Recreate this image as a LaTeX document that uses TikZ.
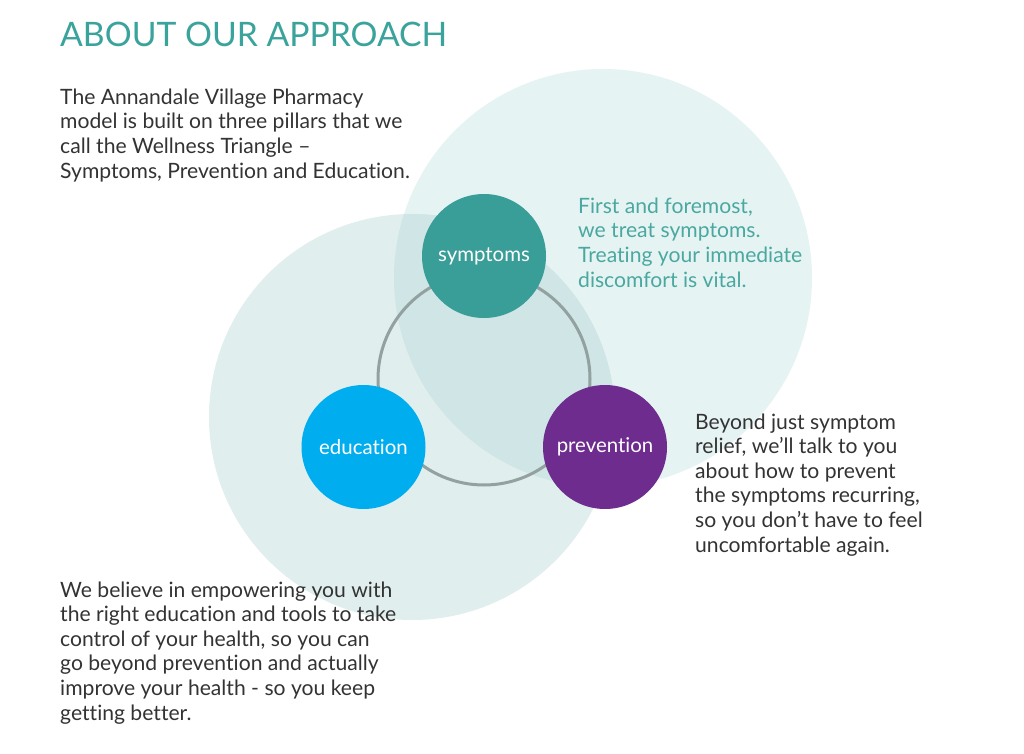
\documentclass[tikz,border=0pt]{standalone}
\usepackage{fontspec}
\setmainfont{Lato}[Ligatures=NoCommon]
\definecolor{titleteal}{HTML}{3AA39B}
\definecolor{bodygray}{HTML}{333333}
\definecolor{textteal}{HTML}{4AA8A0}
\definecolor{symfill}{HTML}{3A9E98}
\definecolor{edufill}{HTML}{00AEEF}
\definecolor{prevfill}{HTML}{6D2C8E}
\definecolor{bigA}{HTML}{E6F3F3}
\definecolor{bigB}{HTML}{E1EEEE}
\definecolor{overlap}{HTML}{CFE5E6}
\definecolor{ringgray}{HTML}{93A1A1}
\begin{document}
\begin{tikzpicture}[x=1bp,y=-1bp,
  bodytext/.style={anchor=base west,inner sep=0pt,align=left,text=bodygray,font=\fontsize{21.2}{24.6}\selectfont},
  pillar/.style={circle,minimum size=124bp,inner sep=0pt,text=white,font=\fontsize{20.5}{23}\selectfont}]
\useasboundingbox[fill=white] (0,0) rectangle (1024,754);
% backdrop circles
\fill[bigA] (603,278) circle[radius=209];
\fill[bigB] (412,417) circle[radius=203];
\begin{scope}
  \clip (603,278) circle[radius=209];
  \fill[overlap] (412,417) circle[radius=203];
\end{scope}
% ring
\coordinate (ringc) at (484,379);
\draw[ringgray,line width=3bp] (ringc) circle[radius=106];
% pillars
\node[pillar,fill=symfill] (sym) at (484,256) {symptoms};
\node[pillar,fill=edufill] (edu) at (363.5,447) {education};
\node[pillar,fill=prevfill] (prev) at (605,447) {prevention};
% texts
\node[anchor=base west,inner sep=0pt,text=titleteal,font=\fontsize{33.8}{38}\selectfont] (title) at (60,47) {ABOUT OUR APPROACH};
\node[bodytext] (intro) at (60,178) {The Annandale Village Pharmacy\\model is built on three pillars that we\\call the Wellness Triangle --\\Symptoms, Prevention and Education.};
\node[bodytext,text=textteal] (symtext) at (578,287) {First and foremost,\\we treat symptoms.\\Treating your immediate\\discomfort is vital.};
\node[bodytext] (prevtext) at (695,552) {Beyond just symptom\\relief, we’ll talk to you\\about how to prevent\\the symptoms recurring,\\so you don’t have to feel\\uncomfortable again.};
\node[bodytext] (edutext) at (60,720) {We believe in empowering you with\\the right education and tools to take\\control of your health, so you can\\go beyond prevention and actually\\improve your health - so you keep\\getting better.};
\end{tikzpicture}
\end{document}
